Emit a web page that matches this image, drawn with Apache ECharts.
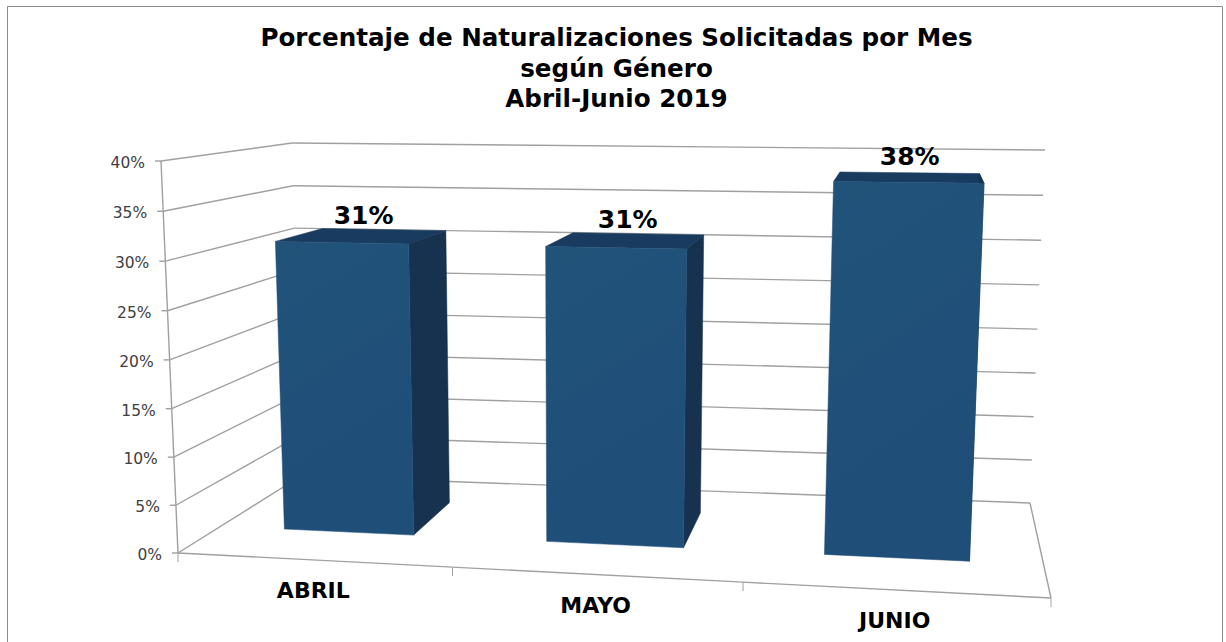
<!DOCTYPE html>
<html lang="es">
<head>
<meta charset="utf-8">
<title>Naturalizaciones</title>
<style>
  html, body { margin: 0; padding: 0; background: #fff; }
  #main { width: 1226px; height: 642px; }
</style>
</head>
<body>
<div id="main"></div>
<script src="https://cdn.jsdelivr.net/npm/echarts@6/dist/echarts.min.js"></script>
<script>
/* datos */
const titulo = 'Porcentaje de Naturalizaciones Solicitadas por Mes\nsegún Género\nAbril-Junio 2019'
const meses = ['ABRIL', 'MAYO', 'JUNIO']
const porcentajes = [31, 31, 38]
const ticksY = [0, 5, 10, 15, 20, 25, 30, 35, 40]
const etiquetasY = ['0%', '5%', '10%', '15%', '20%', '25%', '30%', '35%', '40%']

/* esquinas de la caja 3D en pantalla: F/B frente/fondo, L/R izq/der, 0/1 piso/techo */
const caja = {
  FL0: [178, 553], FR0: [1051, 598], BL0: [301, 476], BR0: [1030, 503],
  FL1: [161, 161], FR1: [1071, 171], BL1: [292, 143], BR1: [1045, 150]
}
const fuente = 'DejaVu Sans, Verdana, sans-serif'
const gris = '#a0a0a0'
const anchoBarra = 0.5
const fondoFrente = 0.35   // profundidad de la cara frontal
const fondoAtras = 0.75    // profundidad de la cara trasera

const lerp = (a, b, t) => [a[0] + (b[0] - a[0]) * t, a[1] + (b[1] - a[1]) * t]

// u: ancho 0-1, v: altura 0-1, w: profundidad 0-1
function proyectar(u, v, w) {
  const uu = u / (u + 1.09 * (1 - u))
  const vv = v / (v + 1.03 * (1 - v))
  const piso = lerp(lerp(caja.FL0, caja.FR0, uu), lerp(caja.BL0, caja.BR0, uu), w)
  const techo = lerp(lerp(caja.FL1, caja.FR1, uu), lerp(caja.BL1, caja.BR1, uu), w)
  return lerp(piso, techo, vv)
}

// pasa por las escalas del grid oculto y devuelve u, v normalizados
function normalizar(params, api, categoria, valor) {
  const p = api.coord([categoria, valor])
  const g = params.coordSys
  return [(p[0] - g.x) / g.width, 1 - (p[1] - g.y) / g.height]
}

const linea = (a, b, ancho) => ({
  type: 'line',
  shape: { x1: a[0], y1: a[1], x2: b[0], y2: b[1] },
  style: { stroke: gris, lineWidth: ancho || 1.4 }
})
const cara = (puntos, fill) => ({
  type: 'polygon',
  shape: { points: puntos },
  style: { fill: fill, stroke: fill, lineWidth: 0.5 }
})

// paredes, lineas de division y etiquetas del eje Y
function dibujarPared(params, api) {
  const i = params.dataIndex
  const v = normalizar(params, api, 0, api.value(0))[1]
  const frente = proyectar(0, v, 0)
  const fondo = proyectar(0, v, 1)
  const hijos = [
    linea(frente, fondo),
    linea(fondo, proyectar(1, v, 1)),
    linea(frente, [frente[0] - 6, frente[1]]),
    {
      type: 'text',
      style: {
        text: etiquetasY[i], x: frente[0] - 16, y: frente[1] + 2,
        align: 'right', verticalAlign: 'middle',
        fontFamily: fuente, fontSize: 15.5, fill: '#404040'
      }
    }
  ]
  if (i < ticksY.length - 1) {
    const vSig = normalizar(params, api, 0, ticksY[i + 1])[1]
    hijos.push(linea(frente, proyectar(0, vSig, 0)))
  }
  return { type: 'group', children: hijos }
}

// borde frontal del piso, marcas y nombre de cada mes
function dibujarPiso(params, api) {
  const i = params.dataIndex
  const centro = normalizar(params, api, i, 0)[0]
  const mitad = api.size([1, 0])[0] / params.coordSys.width / 2
  const izq = proyectar(centro - mitad, 0, 0)
  const der = proyectar(centro + mitad, 0, 0)
  const base = proyectar(centro, 0, 0)
  const hijos = [
    linea(izq, der),
    linea(izq, [izq[0], izq[1] + 9], 1),
    {
      type: 'text',
      style: {
        text: meses[i], x: base[0], y: base[1] + 31,
        align: 'center', verticalAlign: 'middle',
        fontFamily: fuente, fontWeight: 'bold', fontSize: 22, fill: '#000'
      }
    }
  ]
  if (i === meses.length - 1) {
    hijos.push(linea(der, [der[0], der[1] + 9], 1))
    hijos.push(linea(der, proyectar(1, 0, 1)))
  }
  return { type: 'group', children: hijos }
}

function dibujarBarra(params, api) {
  const i = api.value(0)
  const centro = normalizar(params, api, i, 0)[0]
  const v = normalizar(params, api, i, api.value(1))[1]
  const mitad = api.size([1, 0])[0] / params.coordSys.width * anchoBarra / 2
  const u0 = centro - mitad
  const u1 = centro + mitad
  const a = fondoFrente
  const b = fondoAtras
  const alto = proyectar(centro, v, (a + b) / 2)
  return {
    type: 'group',
    children: [
      cara([proyectar(u0, v, a), proyectar(u1, v, a), proyectar(u1, v, b), proyectar(u0, v, b)], '#193b5f'),
      cara([proyectar(u1, 0, a), proyectar(u1, v, a), proyectar(u1, v, b), proyectar(u1, 0, b)], '#16324f'),
      cara([proyectar(u0, 0, a), proyectar(u1, 0, a), proyectar(u1, v, a), proyectar(u0, v, a)], {
        type: 'linear', x: 0, y: 0, x2: 0.3, y2: 1,
        colorStops: [{ offset: 0, color: '#215379' }, { offset: 1, color: '#1f4e79' }]
      }),
      {
        type: 'text',
        style: {
          text: api.value(1) + '%', x: alto[0] + 1, y: alto[1] - 21,
          align: 'center', verticalAlign: 'middle',
          fontFamily: fuente, fontWeight: 'bold', fontSize: 25, fill: '#000'
        }
      }
    ]
  }
}

const chart = echarts.init(document.getElementById('main'), null, { renderer: 'svg' })
chart.setOption({
  animation: false,
  backgroundColor: '#fff',
  title: {
    text: titulo,
    left: 611.5,
    top: 17.5,
    textAlign: 'center',
    textStyle: { fontFamily: fuente, fontWeight: 'bold', fontSize: 24.6, lineHeight: 30.5, color: '#000' }
  },
  // grid oculto: solo aporta las escalas, proyectar() hace la perspectiva
  grid: { left: 100, top: 100, width: 900, height: 400 },
  xAxis: { type: 'category', data: meses, show: false },
  yAxis: { type: 'value', min: 0, max: 40, interval: 5, show: false },
  graphic: [{
    type: 'polyline',
    silent: true,
    shape: { points: [[7.5, 650], [7.5, 6.5], [1222.5, 6.5], [1222.5, 650]] },
    style: { stroke: '#8c8c8c', lineWidth: 1, fill: 'none' }
  }],
  series: [
    { type: 'custom', silent: true, clip: false, z: 1, data: ticksY.map(t => [t]), renderItem: dibujarPared, encode: { y: 0 } },
    { type: 'custom', silent: true, clip: false, z: 2, data: meses.map((m, i) => [i]), renderItem: dibujarPiso, encode: { x: 0 } },
    { type: 'custom', silent: true, clip: false, z: 3, data: porcentajes.map((p, i) => [i, p]), renderItem: dibujarBarra, encode: { x: 0, y: 1 } }
  ]
})
</script>
</body>
</html>
